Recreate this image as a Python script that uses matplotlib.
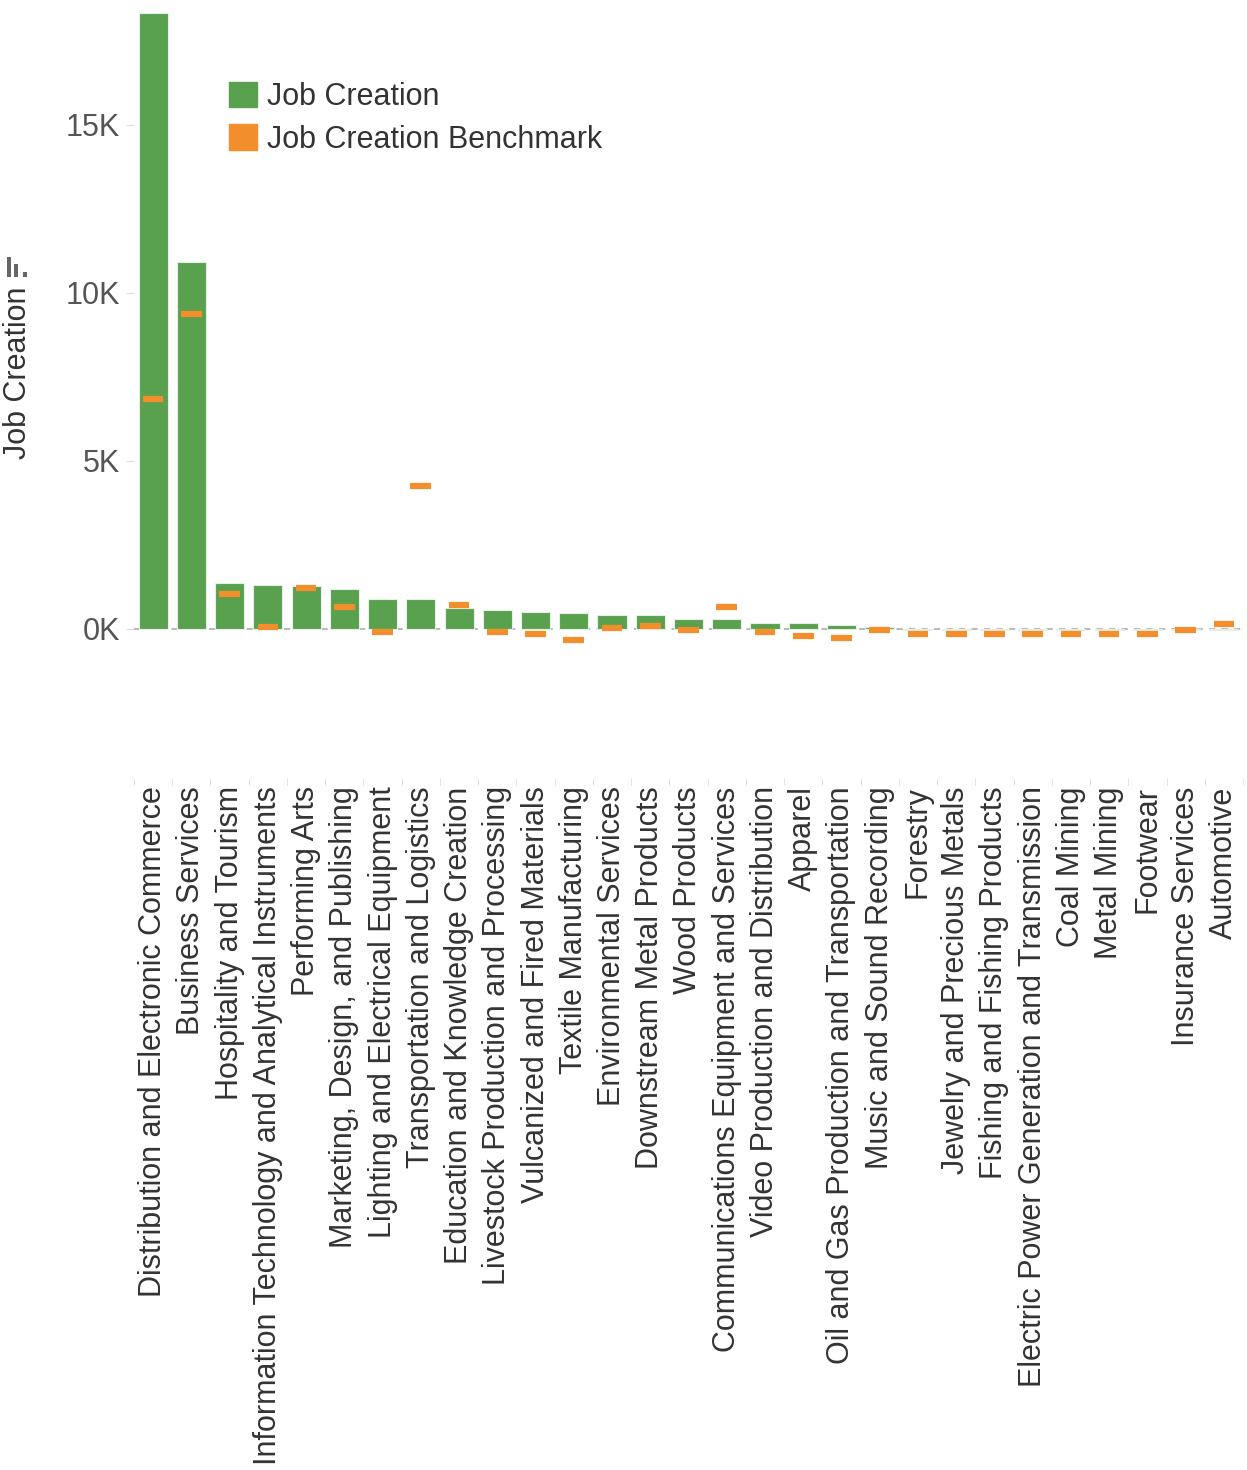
import matplotlib
matplotlib.use("Agg")
import matplotlib.pyplot as plt
from matplotlib.patches import Patch, Rectangle
import numpy as np

plt.rcParams['font.family'] = ['Liberation Sans', 'DejaVu Sans']

categories = [
    "Distribution and Electronic Commerce", "Business Services", "Hospitality and Tourism",
    "Information Technology and Analytical Instruments", "Performing Arts",
    "Marketing, Design, and Publishing", "Lighting and Electrical Equipment",
    "Transportation and Logistics", "Education and Knowledge Creation",
    "Livestock Production and Processing", "Vulcanized and Fired Materials",
    "Textile Manufacturing", "Environmental Services", "Downstream Metal Products",
    "Wood Products", "Communications Equipment and Services",
    "Video Production and Distribution", "Apparel",
    "Oil and Gas Production and Transportation", "Music and Sound Recording",
    "Forestry", "Jewelry and Precious Metals", "Fishing and Fishing Products",
    "Electric Power Generation and Transmission", "Coal Mining", "Metal Mining",
    "Footwear", "Insurance Services", "Automotive",
]

# values in thousands
job_creation = [18.33, 10.90, 1.37, 1.31, 1.26, 1.19, 0.90, 0.90, 0.62, 0.57,
                0.51, 0.46, 0.40, 0.40, 0.28, 0.28, 0.17, 0.17, 0.11, 0.05,
                -0.03, -0.03, -0.03, -0.03, -0.03, -0.03, -0.03, -0.03, -0.03]
benchmark = [6.85, 9.38, 1.04, 0.06, 1.21, 0.64, -0.11, 4.25, 0.70, -0.11,
             -0.16, -0.33, 0.01, 0.07, -0.05, 0.65, -0.11, -0.22, -0.28, -0.05,
             -0.16, -0.16, -0.16, -0.16, -0.16, -0.16, -0.16, -0.05, 0.13]

yticks = [0, 5, 10, 15]
ytick_labels = ["0K", "5K", "10K", "15K"]

green = '#59A14F'
orange = '#F28E2B'

W, H = 1247, 1470
fig = plt.figure(figsize=(W / 100, H / 100), dpi=100)
ax = fig.add_axes([134 / W, 1 - 778 / H, (1243 - 134) / W, (778 - 10) / H])

x = np.arange(len(categories))
ax.bar(x, job_creation, width=0.76, color=green, edgecolor='#e6efe4', linewidth=0.8)
ax.hlines(benchmark, x - 0.27, x + 0.27, color=orange, linewidth=4.5)

ax.axhline(0, color='#bbbbbb', linestyle=(0, (3, 3)), linewidth=1.5, zorder=0)

ax.set_xlim(-0.5, len(categories) - 0.5)
ax.set_ylim(-4.44, 18.41)

ax.set_yticks(yticks)
ax.set_yticklabels(ytick_labels)
ax.tick_params(axis='y', length=6, color='#dddddd', labelsize=22, labelcolor='#555555', pad=4)

ax.set_xticks(x)
ax.set_xticklabels(categories, rotation=90, fontsize=22, color='#333333', va='top')
ax.set_xticks(np.arange(len(categories) + 1) - 0.5, minor=True)
ax.tick_params(axis='x', which='major', length=0, pad=6)
ax.tick_params(axis='x', which='minor', length=5, color='#dddddd', direction='out')

for s in ax.spines.values():
    s.set_visible(False)

fig.text(18 / W, 1 - 373 / H, "Job Creation", rotation=90, fontsize=22,
         color='#333333', ha='center', va='center')

# sort icon above the axis title: three bars, bottoms aligned
for x0, top in [(7, 257), (14, 264), (23, 272)]:
    fig.add_artist(Rectangle((x0 / W, 1 - 277 / H), 4 / W, (277 - top) / H,
                             transform=fig.transFigure, color='#666666', lw=0))

handles = [Patch(color=green, label="Job Creation"),
           Patch(color=orange, label="Job Creation Benchmark")]
fig.legend(handles=handles, loc='upper left', bbox_to_anchor=(229 / W, 1 - 82 / H),
           frameon=False, fontsize=22, handlelength=0.9, handleheight=0.9,
           handletextpad=0.35, labelspacing=0.4, borderaxespad=0, borderpad=0,
           labelcolor='#333333')

fig.savefig("out.png", dpi=100)
